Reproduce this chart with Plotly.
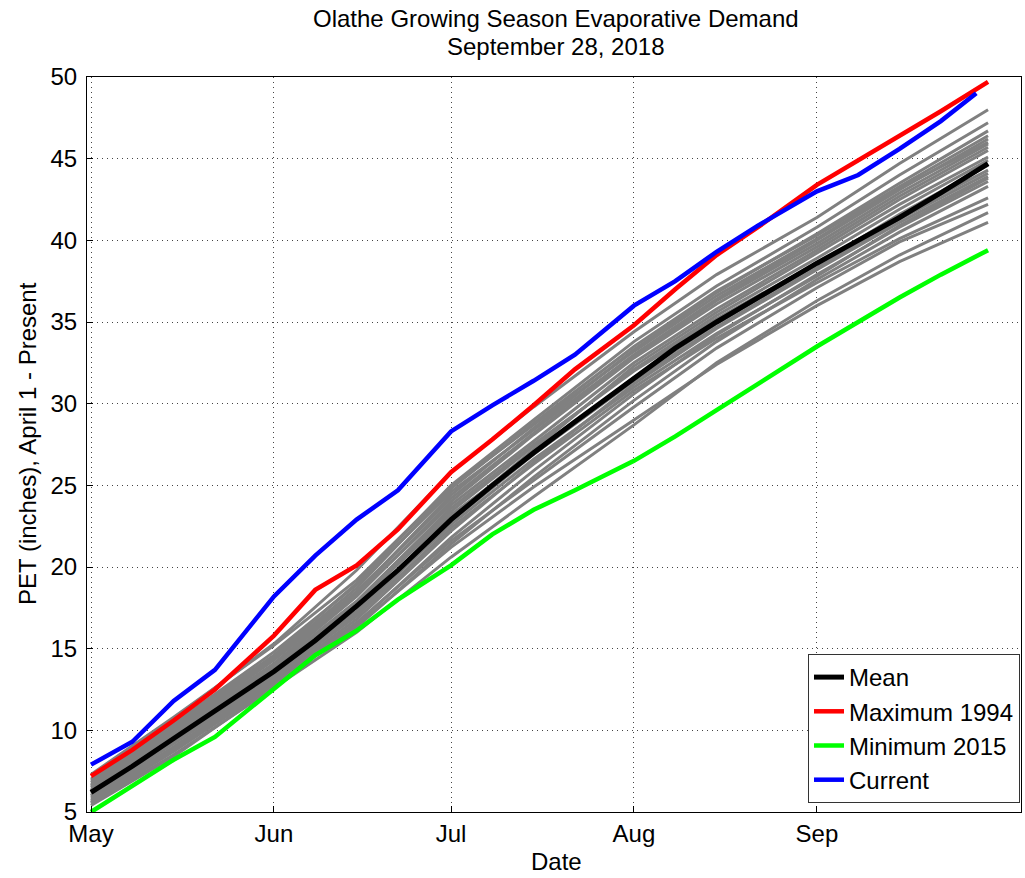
import plotly.graph_objects as go

# semi-monthly dates for historical years (gray)
gray_dates = ["2018-05-01", "2018-05-15", "2018-06-01", "2018-06-15", "2018-07-01", "2018-07-15",
              "2018-08-01", "2018-08-15", "2018-09-01", "2018-09-15", "2018-09-30"]

gray_years = [
    [7.0, 10.7, 15.3, 19.8, 25.8, 29.8, 34.4, 37.9, 41.4, 44.7, 48.0],
    [6.8, 10.3, 14.6, 19.0, 25.0, 29.0, 33.8, 37.2, 40.8, 44.0, 47.2],
    [6.6, 10.0, 14.3, 18.4, 24.4, 28.5, 33.3, 36.8, 40.4, 43.5, 46.7],
    [6.9, 10.4, 14.8, 18.9, 24.6, 28.4, 33.0, 36.4, 40.0, 43.1, 46.2],
    [6.4, 9.8, 14.0, 18.2, 24.0, 28.1, 32.8, 36.1, 39.6, 42.7, 45.7],
    [6.0, 9.3, 13.4, 17.2, 23.0, 27.2, 32.3, 35.6, 39.2, 42.2, 45.1],
    [6.3, 9.6, 13.9, 17.9, 23.6, 27.5, 32.0, 35.2, 38.6, 41.5, 44.3],
    [5.8, 9.0, 13.1, 16.8, 22.2, 26.4, 31.2, 34.6, 38.2, 41.1, 43.9],
    [5.6, 8.7, 12.8, 16.3, 21.4, 25.5, 30.2, 33.8, 37.6, 40.5, 43.3],
    [6.1, 9.4, 13.3, 17.0, 22.4, 26.3, 30.8, 34.0, 37.4, 40.1, 42.6],
    [5.5, 8.5, 12.6, 16.0, 20.6, 24.3, 28.7, 32.5, 36.3, 39.1, 41.7],
    [5.7, 8.8, 12.9, 16.4, 21.2, 24.9, 29.0, 32.4, 36.0, 38.7, 41.1],
    [6.7, 10.2, 14.5, 18.7, 24.8, 28.8, 33.5, 36.9, 40.3, 43.3, 46.4],
    [6.2, 9.5, 13.7, 17.7, 23.4, 27.4, 32.1, 35.4, 38.9, 41.9, 44.9],
    [5.9, 9.2, 13.2, 17.1, 22.8, 26.9, 31.6, 34.9, 38.5, 41.6, 44.6],
    [6.5, 9.9, 14.1, 18.3, 23.8, 27.7, 32.5, 35.8, 39.4, 42.5, 45.5],
    [5.4, 8.4, 12.7, 16.5, 21.8, 25.9, 30.6, 34.2, 37.9, 40.8, 43.6],
    [7.3, 10.8, 15.2, 19.2, 24.9, 28.7, 33.2, 36.6, 40.1, 43.2, 46.0],
    [6.3, 9.7, 13.8, 17.8, 23.2, 26.9, 31.4, 34.7, 38.3, 41.3, 44.1],
    [6.0, 9.2, 13.3, 17.3, 22.6, 26.6, 31.0, 34.3, 37.8, 40.9, 43.8],
    [6.6, 10.1, 14.4, 18.5, 24.2, 28.2, 32.9, 36.3, 39.8, 42.9, 45.9],
    [5.6, 8.9, 13.0, 16.6, 21.6, 25.3, 29.8, 33.4, 37.1, 39.9, 42.2],
]

# weekly dates for the highlighted series
week_dates = ["2018-05-01", "2018-05-08", "2018-05-15", "2018-05-22", "2018-06-01", "2018-06-08",
              "2018-06-15", "2018-06-22", "2018-07-01", "2018-07-08", "2018-07-15", "2018-07-22",
              "2018-08-01", "2018-08-08", "2018-08-15", "2018-08-22", "2018-09-01", "2018-09-08",
              "2018-09-15", "2018-09-22", "2018-09-30"]
current_dates = week_dates[:-1] + ["2018-09-28"]

mean_pet = [6.2, 7.8, 9.5, 11.2, 13.6, 15.5, 17.6, 19.8, 22.9, 25.0, 27.0, 28.9,
            31.6, 33.4, 35.0, 36.5, 38.6, 40.0, 41.4, 42.9, 44.7]
max_1994 = [7.2, 8.8, 10.6, 12.5, 15.8, 18.6, 20.1, 22.3, 25.8, 27.8, 29.9, 32.1,
            34.8, 37.0, 39.1, 40.8, 43.4, 44.9, 46.4, 47.9, 49.7]
min_2015 = [5.0, 6.6, 8.2, 9.6, 12.5, 14.6, 16.1, 18.0, 20.1, 22.0, 23.5, 24.7,
            26.5, 28.0, 29.6, 31.2, 33.5, 35.0, 36.5, 37.9, 39.4]
current = [7.9, 9.3, 11.8, 13.7, 18.2, 20.7, 22.9, 24.7, 28.3, 29.9, 31.4, 33.0,
           36.0, 37.5, 39.3, 40.9, 43.0, 44.0, 45.6, 47.3, 49.0]

month_ticks = ["2018-05-01", "2018-06-01", "2018-07-01", "2018-08-01", "2018-09-01"]
month_labels = ["May", "Jun", "Jul", "Aug", "Sep"]
y_ticks = [5, 10, 15, 20, 25, 30, 35, 40, 45, 50]

fig = go.Figure()

for g in gray_years:
    fig.add_trace(go.Scatter(x=gray_dates, y=g, mode="lines", showlegend=False,
                             line=dict(color="#808080", width=3), hoverinfo="skip"))

fig.add_trace(go.Scatter(x=week_dates, y=mean_pet, mode="lines", name="Mean",
                         line=dict(color="black", width=5)))
fig.add_trace(go.Scatter(x=week_dates, y=max_1994, mode="lines", name="Maximum 1994",
                         line=dict(color="#ff0000", width=4.5)))
fig.add_trace(go.Scatter(x=week_dates, y=min_2015, mode="lines", name="Minimum 2015",
                         line=dict(color="#00ff00", width=4.5)))
fig.add_trace(go.Scatter(x=current_dates, y=current, mode="lines", name="Current",
                         line=dict(color="#0000ff", width=4.5)))

axis_common = dict(
    showline=True, mirror=True, linecolor="black", linewidth=1,
    ticks="inside", ticklen=6, tickcolor="black",
    showgrid=True, gridcolor="#444444", griddash="1px,4px", gridwidth=1,
    zeroline=False, tickfont=dict(size=24, color="black"), automargin=False,
)

# plot area in pixels: x 87..1021, y 77..812
def px(x):
    return (x - 87) / 934

def py(y):
    return (812 - y) / 735

txt = dict(xref="paper", yref="paper", showarrow=False, xanchor="center", yanchor="middle",
           font=dict(size=24, color="black"))
annotations = [
    dict(text="Olathe Growing Season Evaporative Demand", x=px(556), y=py(18), **txt),
    dict(text="September 28, 2018", x=px(556), y=py(47), **txt),
    dict(text="Date", x=px(556), y=py(861), **txt),
    dict(text="PET (inches), April 1 - Present", x=px(28), y=py(444), textangle=-90, **txt),
]

fig.update_layout(
    width=1025, height=878,
    margin=dict(l=87, r=4, t=77, b=66),
    paper_bgcolor="white", plot_bgcolor="white",
    font=dict(family="Liberation Sans", color="black", size=24),
    annotations=annotations,
    legend=dict(x=px(1020), xanchor="right", y=py(803), yanchor="bottom",
                bgcolor="white", bordercolor="#333333", borderwidth=1,
                font=dict(size=24), tracegroupgap=0),
)
fig.update_xaxes(range=["2018-04-30 07:40", "2018-10-05 14:00"],
                 tickvals=month_ticks, ticktext=month_labels, **axis_common)
fig.update_yaxes(range=[5, 50], tickvals=y_ticks, ticklabelstandoff=4, **axis_common)

# remove the default page margin so the figure sits at the window's corner
fig.write_html("out.html", config={"displayModeBar": False},
               post_script="document.body.style.margin='0';")
